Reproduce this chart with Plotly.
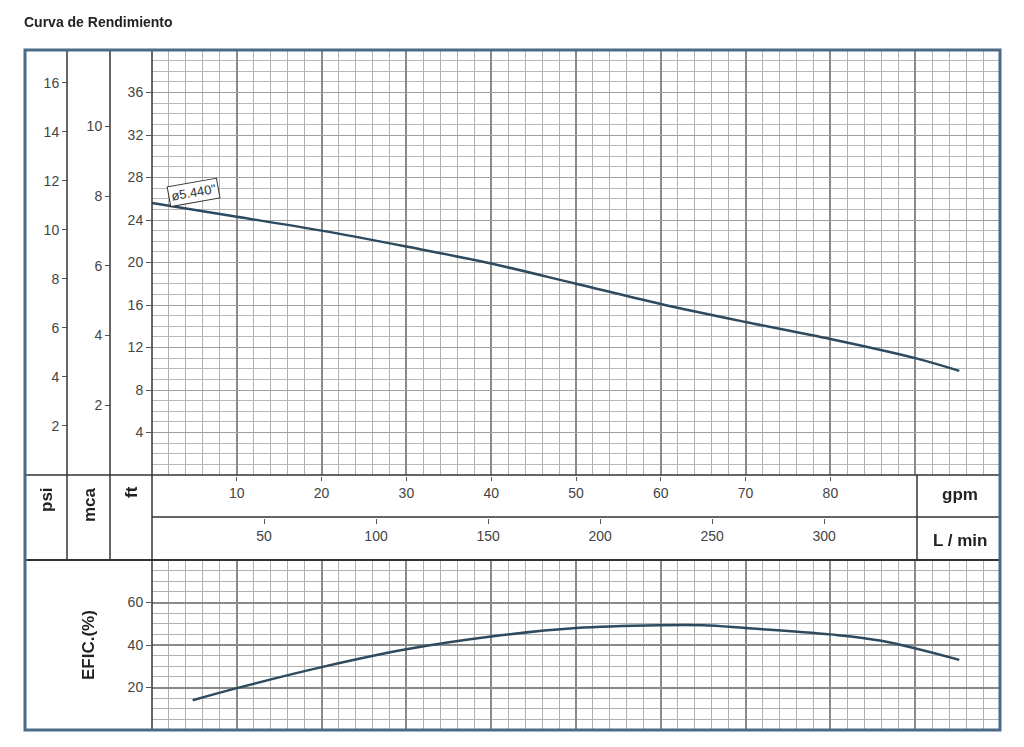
import plotly.graph_objects as go

W, H = 1008, 731
OFF = 8
def px(x): return (x - OFF) / W
def py(y): return 1 - (y - OFF) / H

# data
gpm_head = [0, 10, 20, 30, 40, 50, 60, 70, 80, 90, 95.2]
head_ft = [25.6, 24.3, 23.0, 21.5, 19.9, 18.0, 16.1, 14.4, 12.8, 11.0, 9.8]
gpm_eff = [4.8, 10, 20, 30, 40, 50, 60, 65, 70, 80, 86, 95.2]
eff_pct = [14, 19.7, 29.6, 38, 44, 48, 49.3, 49.3, 48, 45, 42, 33]
gpm_ticks = [10, 20, 30, 40, 50, 60, 70, 80]
lmin_ticks = [50, 100, 150, 200, 250, 300]
ft_ticks = [4, 8, 12, 16, 20, 24, 28, 32, 36]
psi_ticks = [2, 4, 6, 8, 10, 12, 14, 16]
mca_ticks = [2, 4, 6, 8, 10]
eff_ticks = [20, 40, 60]

FT_MAX = 40
GPM_MAX = 100
LINE = '#2d4a5e'
TXT = '#444'
fnt = dict(family='Liberation Sans, Arial', size=13, color=TXT)
tf = dict(size=14, color=TXT)

fig = go.Figure()
fig.add_trace(go.Scatter(x=gpm_head, y=head_ft, mode='lines', line=dict(color=LINE, width=2.5, shape='spline'),
                         xaxis='x', yaxis='y', hoverinfo='skip'))
fig.add_trace(go.Scatter(x=[0, GPM_MAX], y=[0, FT_MAX * 0.4335], mode='markers', opacity=0,
                         xaxis='x', yaxis='y2', hoverinfo='skip'))
fig.add_trace(go.Scatter(x=[0, GPM_MAX], y=[0, FT_MAX * 0.3048], mode='markers', opacity=0,
                         xaxis='x', yaxis='y3', hoverinfo='skip'))
fig.add_trace(go.Scatter(x=[0, GPM_MAX], y=[0, 1], mode='markers', opacity=0,
                         xaxis='x2', yaxis='y', hoverinfo='skip'))
fig.add_trace(go.Scatter(x=[0, GPM_MAX * 3.785], y=[0, 1], mode='markers', opacity=0,
                         xaxis='x3', yaxis='y', hoverinfo='skip'))
fig.add_trace(go.Scatter(x=gpm_eff, y=eff_pct, mode='lines', line=dict(color=LINE, width=2.5, shape='spline'),
                         xaxis='x4', yaxis='y4', hoverinfo='skip'))

xdom = [px(152), px(1000)]
grid_x = dict(range=[0, GPM_MAX], dtick=10, showgrid=True, gridcolor='#8a8a8a', gridwidth=1.5,
              minor=dict(dtick=2, showgrid=True, gridcolor='#b0b0b0', gridwidth=1),
              showticklabels=False, zeroline=False, ticks='')
fig.update_layout(
    width=W, height=H, margin=dict(l=0, r=0, t=0, b=0),
    paper_bgcolor='white', plot_bgcolor='white', showlegend=False, font=fnt,
    xaxis=dict(domain=xdom, anchor='y', **grid_x),
    yaxis=dict(domain=[py(475), py(50)], range=[0, FT_MAX], tickvals=ft_ticks, ticks='outside',
               ticklen=5, tickcolor='#555', tickfont=tf, showgrid=True, gridcolor='#a0a0a0', gridwidth=1, dtick=4,
               minor=dict(dtick=1, showgrid=True, gridcolor='#b8b8b8', gridwidth=1),
               zeroline=False, anchor='x'),
    yaxis2=dict(overlaying='y', range=[0, FT_MAX * 0.4335], tickvals=psi_ticks, anchor='free',
                position=px(67), side='left', ticks='outside', ticklen=5, tickcolor='#555', tickfont=tf,
                showgrid=False, zeroline=False),
    yaxis3=dict(overlaying='y', range=[0, FT_MAX * 0.3048], tickvals=mca_ticks, anchor='free',
                position=px(110), side='left', ticks='outside', ticklen=5, tickcolor='#555', tickfont=tf,
                showgrid=False, zeroline=False),
    xaxis2=dict(overlaying='x', range=[0, GPM_MAX], tickvals=gpm_ticks, anchor='free',
                position=py(476), side='bottom', ticks='outside', ticklen=4, tickcolor='#555', tickfont=tf,
                showgrid=False, zeroline=False),
    xaxis3=dict(overlaying='x', range=[0, GPM_MAX * 3.785], tickvals=lmin_ticks, anchor='free',
                position=py(518), side='bottom', ticks='outside', ticklen=5, tickcolor='#555', tickfont=tf,
                showgrid=False, zeroline=False),
    xaxis4=dict(domain=xdom, anchor='y4', **grid_x),
    yaxis4=dict(domain=[py(730), py(560)], range=[0, 80], tickvals=eff_ticks, ticks='outside',
                ticklen=5, tickcolor='#555', tickfont=tf, showgrid=True, gridcolor='#8a8a8a', gridwidth=1.5, dtick=20,
                minor=dict(dtick=5, showgrid=True, gridcolor='#b0b0b0', gridwidth=1),
                zeroline=False, anchor='x4'),
)

shapes = []
def ln(x0, y0, x1, y1, c='#333', w=1.5):
    shapes.append(dict(type='line', xref='paper', yref='paper', x0=px(x0), y0=py(y0),
                       x1=px(x1), y1=py(y1), line=dict(color=c, width=w)))
ln(67, 50, 67, 560); ln(110, 50, 110, 560); ln(152, 50, 152, 730)
ln(25, 475, 1000, 475); ln(152, 517, 1000, 517); ln(25, 560, 1000, 560, w=2)
ln(917, 475, 917, 560)
shapes.append(dict(type='rect', xref='paper', yref='paper', x0=px(25), y0=py(730), x1=px(1000),
                   y1=py(50), line=dict(color='#4a6a85', width=3)))
fig.update_layout(shapes=shapes)

ann = [
    dict(x=px(22), y=py(22), text='<b>Curva de Rendimiento</b>', xanchor='left',
         font=dict(size=14, color='#222')),
    dict(x=px(46), y=py(500), text='<b>psi</b>', textangle=-90, xanchor='center', font=dict(size=17, color='#222')),
    dict(x=px(89), y=py(505), text='<b>mca</b>', textangle=-90, xanchor='center', font=dict(size=17, color='#222')),
    dict(x=px(131), y=py(492), text='<b>ft</b>', textangle=-90, xanchor='center', font=dict(size=17, color='#222')),
    dict(x=px(960), y=py(494), text='<b>gpm</b>', xanchor='center', font=dict(size=17, color='#222')),
    dict(x=px(960), y=py(540), text='<b>L / min</b>', xanchor='center', font=dict(size=17, color='#222')),
    dict(x=px(88), y=py(645), text='<b>EFIC.(%)</b>', textangle=-90, xanchor='center', font=dict(size=17, color='#222')),
    dict(x=px(193), y=py(192), text='ø5.440"', textangle=-10, xanchor='center', bgcolor='white', bordercolor='#333',
         borderwidth=1, borderpad=2, font=dict(size=13, color='#333')),
]
fig.update_layout(annotations=[dict(xref='paper', yref='paper', showarrow=False, yanchor='middle', **a) for a in ann])

fig.write_html("out.html")
